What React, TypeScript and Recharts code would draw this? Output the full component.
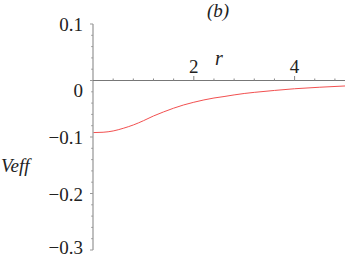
import { LineChart, Line, XAxis, YAxis } from "recharts";

// r values and effective potential
const rValues = [0, 0.2, 0.4, 0.6, 0.8, 1.0, 1.2, 1.4, 1.6, 1.8, 2.0, 2.2, 2.4, 2.6, 2.8, 3.0, 3.2, 3.6, 4.0, 4.5, 5.0];
const veffValues = [
    -0.0922, -0.0916, -0.0893, -0.0846, -0.0787, -0.0712, -0.0628, -0.0556, -0.0490, -0.0432, -0.0385,
    -0.0344, -0.0310, -0.0284, -0.0255, -0.0230, -0.0210, -0.0176, -0.0146, -0.0119, -0.0097,
];

const yMajorTicks = [-0.3, -0.2, -0.1, 0, 0.1];
const yAllTicks = [
    -0.3, -0.28, -0.26, -0.24, -0.22, -0.2, -0.18, -0.16, -0.14, -0.12, -0.1, -0.08, -0.06, -0.04, -0.02, 0,
    0.02, 0.04, 0.06, 0.08, 0.1,
];
const xMajorTicks = [2, 4];
const xAllTicks = [0.4, 0.8, 1.2, 1.6, 2, 2.4, 2.8, 3.2, 3.6, 4, 4.4, 4.8];

const data = rValues.map((r, i) => ({ r, veff: veffValues[i] }));

const W = 345;
const H = 259;
const serif = { fontFamily: '"Liberation Serif", "DejaVu Serif", "Times New Roman", serif' };
const serifItalic = { ...serif, fontStyle: "italic" as const };

function isMajor(v: number, majors: number[]) {
    return majors.some((m) => Math.abs(m - v) < 1e-6);
}

function fmt(v: number) {
    if (Math.abs(v) < 1e-9) return "0";
    return v < 0 ? `\u2212${Math.abs(v)}` : String(v);
}

function YTick(props: any) {
    const { x, y, payload } = props;
    const v = payload.value as number;
    const major = isMajor(v, yMajorTicks);
    const ty = Math.min(y + (v === 0 ? 16 : 7), 254);
    return (
        <g>
            <line x1={x} x2={x - (major ? 3 : 1.8)} y1={y} y2={y} stroke="#999" strokeWidth={1} />
            {major && (
                <text x={x - 10} y={ty} textAnchor="end" fontSize={19} style={serif} fill="#222">
                    {fmt(v)}
                </text>
            )}
        </g>
    );
}

function XTick(props: any) {
    const { x, y, payload } = props;
    const v = payload.value as number;
    const major = isMajor(v, xMajorTicks);
    return (
        <g>
            <line x1={x} x2={x} y1={y} y2={y - (major ? 4.5 : 2)} stroke="#888" strokeWidth={1} />
            {major && (
                <text x={x} y={y - 8} textAnchor="middle" fontSize={19} style={serif} fill="#222">
                    {fmt(v)}
                </text>
            )}
        </g>
    );
}

export default function App() {
    return (
        <div style={{ position: "absolute", left: 0, top: 0, width: W, height: H, background: "#fff" }}>
            <div style={{ position: "absolute", left: 0, top: 0 }}>
                <LineChart width={W} height={H} data={data} margin={{ top: 24, right: 0, bottom: 9, left: 0 }}>
                    <XAxis dataKey="r" type="number" domain={[0, 5]} hide />
                    <YAxis
                        type="number"
                        domain={[-0.3, 0.1]}
                        ticks={yAllTicks}
                        interval={0}
                        width={93}
                        allowDataOverflow
                        axisLine={{ stroke: "#aaa", strokeWidth: 1.5 }}
                        tickLine={false}
                        tickSize={0}
                        tickMargin={0}
                        tick={<YTick />}
                    />
                    <Line
                        dataKey="veff"
                        type="monotone"
                        stroke="#f25050"
                        strokeWidth={1}
                        dot={false}
                        isAnimationActive={false}
                    />
                </LineChart>
            </div>
            <div style={{ position: "absolute", left: 0, top: 0, pointerEvents: "none" }}>
                <LineChart width={W} height={H} data={data} margin={{ top: 0, right: 0, bottom: 0, left: 93 }}>
                    <XAxis
                        dataKey="r"
                        type="number"
                        orientation="top"
                        domain={[0, 5]}
                        ticks={xAllTicks}
                        interval={0}
                        height={80.5}
                        allowDataOverflow
                        axisLine={{ stroke: "#777", strokeWidth: 1 }}
                        tickLine={false}
                        tickSize={0}
                        tickMargin={0}
                        tick={<XTick />}
                    />
                    <YAxis type="number" domain={[-0.3, 0]} hide />
                </LineChart>
            </div>
            <svg width={W} height={H} style={{ position: "absolute", left: 0, top: 0, pointerEvents: "none" }}>
                <text x={218} y={17} textAnchor="middle" fontSize={19} style={serifItalic} fill="#222">
                    (b)
                </text>
                <text x={219} y={65} textAnchor="middle" fontSize={20} style={serifItalic} fill="#222">
                    r
                </text>
                <text x={1} y={172} textAnchor="start" fontSize={19} style={serifItalic} fill="#222">
                    Veff
                </text>
            </svg>
        </div>
    );
}
